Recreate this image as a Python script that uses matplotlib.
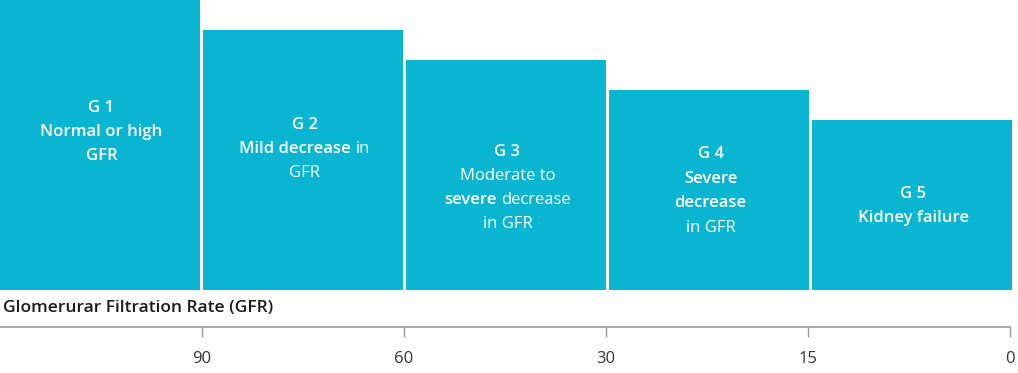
import matplotlib
matplotlib.use("Agg")
import matplotlib.pyplot as plt
from matplotlib.offsetbox import TextArea, HPacker, VPacker, AnnotationBbox

# ---- data ----
stages = ["G 1", "G 2", "G 3", "G 4", "G 5"]
heights = [29, 26, 23, 20, 17]
boundary_labels = ["90", "60", "30", "15", "0"]
# label lines: list of lines, each line a list of (text, bold?)
descriptions = [
    [[("G 1", True)], [("Normal or high", True)], [("GFR", True)]],
    [[("G 2", True)], [("Mild decrease", True), ("in", False)], [("GFR", False)]],
    [[("G 3", True)], [("Moderate to", False)], [("severe", True), ("decrease", False)], [("in GFR", False)]],
    [[("G 4", True)], [("Severe", True)], [("decrease", True)], [("in GFR", False)]],
    [[("G 5", True)], [("Kidney failure", True)]],
]
axis_title = "Glomerurar Filtration Rate (GFR)"

# ---- style ----
BAR = "#0ab5d1"
FAM = ["Open Sans", "DejaVu Sans"]
W, H = 1018, 373
fig = plt.figure(figsize=(W / 100, H / 100), dpi=100)

ax = fig.add_axes([0, 83 / H, 1015 / W, 290 / H])
ax.set_xlim(0, 5)
ax.set_ylim(0, 29)
ax.bar(range(5), heights, width=200 / 203, align="edge", color=BAR, linewidth=0)
ax.axis("off")

text_y = [15.8, 14.1, 10.2, 9.9, 8.4]
for i, lines in enumerate(descriptions):
    rows = []
    for line in lines:
        parts = [TextArea(t, textprops=dict(color="white", fontsize=12, family=FAM,
                                           fontweight=("semibold" if b else "normal")))
                 for t, b in line]
        rows.append(HPacker(children=parts, align="baseline", pad=0, sep=3.5))
    box = VPacker(children=rows, align="center", pad=0, sep=6.0)
    ab = AnnotationBbox(box, (i + 0.5, text_y[i]), xycoords="data", frameon=False,
                        box_alignment=(0.5, 0.5), pad=0)
    ax.add_artist(ab)

# scale axis
ax2 = fig.add_axes([0, (H - 327) / H, 1010 / W, 0.001])
ax2.set_xlim(0, 5)
ax2.set_ylim(0, 1)
for s in ["left", "right", "top"]:
    ax2.spines[s].set_visible(False)
ax2.spines["bottom"].set_color("#9a9a9a")
ax2.spines["bottom"].set_linewidth(1.2)
ax2.set_yticks([])
ax2.set_xticks([1, 2, 3, 4, 5])
ax2.set_xticklabels(boundary_labels, fontsize=12, family=FAM, color="#333333")
ax2.tick_params(axis="x", direction="out", length=7, width=1, color="#9a9a9a", pad=10.5)
ax2.patch.set_visible(False)

fig.text(3 / W, 1 - 308 / H, axis_title, fontsize=12.5, family=FAM, fontweight="semibold",
         color="#1a1a1a", ha="left", va="center")

fig.savefig("out.png", dpi=100)
